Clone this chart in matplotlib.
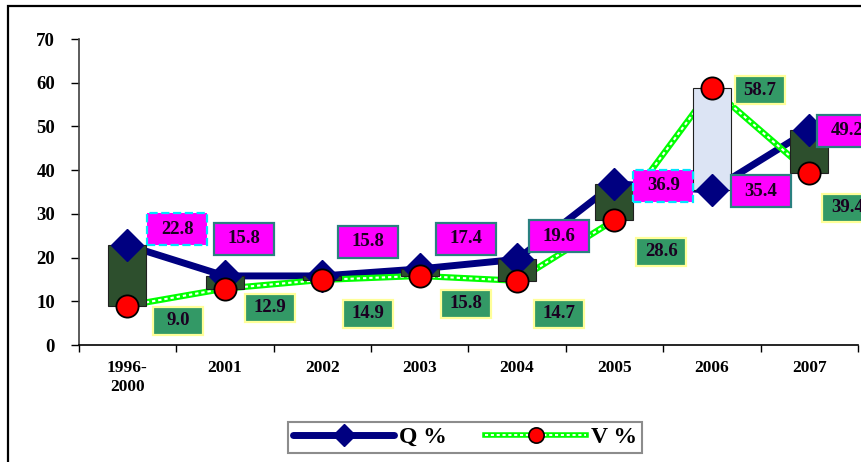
import matplotlib
matplotlib.use("Agg")
import matplotlib.pyplot as plt
import matplotlib.transforms as mtransforms
from matplotlib.patches import Rectangle
from matplotlib.lines import Line2D
from matplotlib.legend_handler import HandlerTuple
import numpy as np

# ---- data ----
categories = ["1996-\n2000", "2001", "2002", "2003", "2004", "2005", "2006", "2007"]
q_values = [22.8, 15.8, 15.8, 17.4, 19.6, 36.9, 35.4, 49.2]
v_values = [9.0, 12.9, 14.9, 15.8, 14.7, 28.6, 58.7, 39.4]
y_ticks = [0, 10, 20, 30, 40, 50, 60, 70]
series_names = ["Q %", "V %"]

# label offsets in pixels (dx, dy) relative to the data point
q_label_off = [(50, 16), (19, 37), (46, 34), (46, 30), (42, 23), (49, -2), (49, -1), (38, -1)]
v_label_off = [(51, -15), (45, -19), (46, -34), (46, -28), (42, -33), (47, -32), (48, -2), (38, -35)]

plt.rcParams['font.family'] = ['Liberation Serif', 'DejaVu Serif']
plt.rcParams['font.weight'] = 'bold'

DPI = 100
fig = plt.figure(figsize=(8.62, 4.62), dpi=DPI)
ax = fig.add_axes([78.7 / 862, 1 - 345 / 462, (858 - 78.7) / 862, (345 - 39) / 462])

x = np.arange(len(categories))
q = np.array(q_values)
v = np.array(v_values)

NAVY = '#000080'
GREEN = '#00ff00'

# lines (under bars)
ax.plot(x, q, color=NAVY, lw=5, solid_capstyle='round', zorder=2)
ax.plot(x, v, color=GREEN, lw=4.5, zorder=2)
ax.plot(x, v, color='white', lw=1.5, dashes=(1.6, 1.4), zorder=2.1)

# up/down bars
for i in range(len(x)):
    lo, hi = min(q[i], v[i]), max(q[i], v[i])
    fc = '#2d4f2d' if q[i] >= v[i] else '#dce4f4'
    ax.bar(x[i], hi - lo, bottom=lo, width=0.39, color=fc, edgecolor='#202020',
           linewidth=0.8, zorder=3)

# markers
ax.plot(x, q, ls='none', marker='D', markersize=16, color=NAVY, zorder=4)
ax.plot(x, v, ls='none', marker='o', markersize=16, markerfacecolor='#ff0000',
        markeredgecolor='black', markeredgewidth=1.3, zorder=4.5)


def box_label(i, val, text, off, w, h, fc, ec, ls='-'):
    trans = fig.dpi_scale_trans + mtransforms.ScaledTranslation(x[i], val, ax.transData)
    dx, dy = off[0] / DPI, off[1] / DPI
    rect = Rectangle((dx - w / DPI / 2, dy - h / DPI / 2), w / DPI, h / DPI,
                     transform=trans, facecolor=fc, edgecolor=ec, linewidth=1.6,
                     linestyle=ls, clip_on=False, zorder=6)
    ax.add_artist(rect)
    ax.annotate(text, xy=(x[i], val), xytext=(off[0] * 0.72, off[1] * 0.72),
                textcoords='offset points', ha='center', va='center',
                fontsize=13.5, fontweight='bold', color='#1a0020', zorder=7,
                annotation_clip=False)


for i in range(len(x)):
    ls = '--' if i in (0, 5) else '-'
    ec = '#00e5ff' if i in (0, 5) else '#2a8080'
    box_label(i, q[i], f"{q[i]:.1f}", q_label_off[i], 60, 32, '#ff00ff', ec, ls)
    box_label(i, v[i], f"{v[i]:.1f}", v_label_off[i], 50, 28, '#339966', '#ffff99')

# axes styling
ax.set_xlim(-0.5, len(x) - 0.5)
ax.set_ylim(0, 70)
ax.set_yticks(y_ticks)
ax.set_yticklabels([str(t) for t in y_ticks], fontsize=13.5, fontweight='bold')
ax.set_xticks(x)
ax.set_xticklabels(categories, fontsize=12.5, fontweight='bold', linespacing=1.2)
ax.set_xticks(np.arange(len(x) + 1) - 0.5, minor=True)
ax.tick_params(axis='x', which='major', length=0, pad=11)
ax.tick_params(axis='x', which='minor', length=5, width=1, direction='out')
ax.tick_params(axis='y', length=6, width=1, direction='out', pad=11)
for s in ('top', 'right'):
    ax.spines[s].set_visible(False)
ax.spines['left'].set_color('#404040')
ax.spines['bottom'].set_color('black')
ax.spines['left'].set_linewidth(1.2)
ax.spines['bottom'].set_linewidth(1.2)

# outer frame
fig.add_artist(Rectangle((8 / 862, -0.5), 1.5, 1.5 - 6 / 462, transform=fig.transFigure,
                         fill=False, edgecolor='black', linewidth=1.6))

# legend
h_q = Line2D([], [], color=NAVY, lw=5, marker='D', markersize=11, solid_capstyle='round')
h_v1 = Line2D([], [], color=GREEN, lw=4)
h_v2 = Line2D([], [], color='white', lw=1.4, dashes=(1.6, 1.4))
h_v3 = Line2D([], [], ls='none', marker='o', markersize=11, markerfacecolor='#ff0000',
              markeredgecolor='black', markeredgewidth=1.2)
leg = fig.legend([h_q, (h_v1, h_v2, h_v3)], series_names, loc='center',
                 bbox_to_anchor=(465 / 862, 1 - 437.5 / 462), ncol=2,
                 handler_map={tuple: HandlerTuple(ndivide=1)},
                 prop={'family': 'Liberation Serif', 'weight': 'bold', 'size': 17},
                 handlelength=4.3, handletextpad=0.2, columnspacing=1.6,
                 frameon=True, fancybox=False, borderpad=0.2, borderaxespad=0)
leg.get_frame().set_edgecolor('#707070')
leg.get_frame().set_linewidth(1.5)

fig.savefig('out.png', dpi=DPI)
